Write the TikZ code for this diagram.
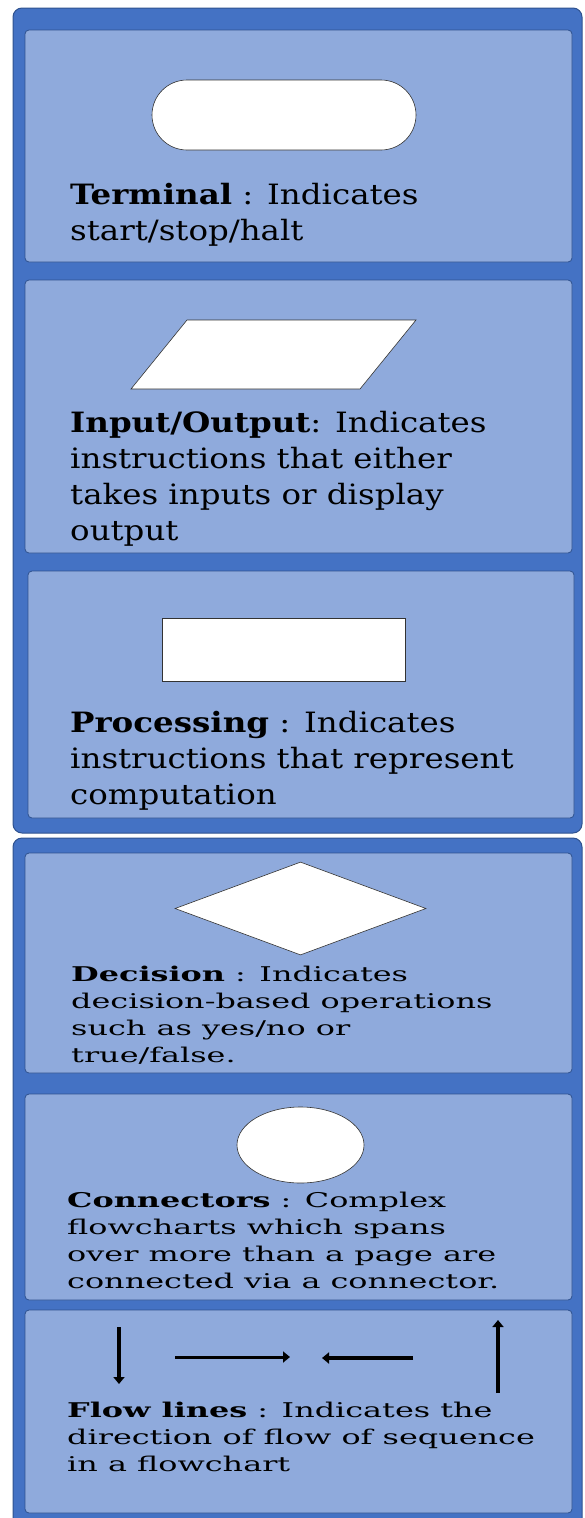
\documentclass[tikz,border=0pt]{standalone}
\usepackage{fontspec}
\setmainfont{DejaVu Serif}
\newfontfamily\bookserif[FakeStretch=1.16]{DejaVu Serif}
\newfontfamily\wideserif[FakeStretch=1.57]{DejaVu Serif}
\usetikzlibrary{shapes.geometric, arrows.meta}
\definecolor{groupblue}{HTML}{4472C4}
\definecolor{panelblue}{HTML}{8FAADC}
\definecolor{edgeblue}{HTML}{2F528F}
\begin{document}
\begin{tikzpicture}[x=1pt, y=-1pt,
    group/.style = {fill=groupblue, draw=edgeblue, line width=1pt, rounded corners=9pt},
    panel/.style = {fill=panelblue, draw=edgeblue, line width=0.8pt, rounded corners=4pt},
    symbol/.style = {fill=white, draw=black!80, line width=0.6pt, inner sep=0pt},
    desc/.style = {anchor=north west, align=left, inner sep=0pt, font=\bookserif\fontsize{28}{36}\selectfont},
    descwide/.style = {anchor=north west, align=left, inner sep=0pt, font=\wideserif\fontsize{20.3}{27}\selectfont},
    flow/.style = {line width=4pt, -{Triangle[length=7pt, width=11pt]}}]
    \useasboundingbox (0,0) rectangle (584,1518);
    \clip (0,0) rectangle (584,1518);
    \draw [group] (13,8) rectangle (582,833);
    \draw [group] (13,838) rectangle (582,1540);
    \draw [panel] (25,30) rectangle (572,262);
    \draw [panel] (25,280) rectangle (572,553);
    \draw [panel] (28,571) rectangle (574,818);
    \draw [panel] (25,853) rectangle (572,1073);
    \draw [panel] (25,1094) rectangle (572,1300);
    \draw [panel] (25,1310) rectangle (572,1513);
    % symbols
    \node [symbol, rectangle, rounded corners=35pt, minimum width=264, minimum height=70] (terminal) at (284,115) {};
    \draw [symbol] (187,320) -- (416,320) -- (360,389) -- (131,389) -- cycle;
    \node [symbol, rectangle, minimum width=243, minimum height=63] (process) at (283.5,649.5) {};
    \node [symbol, diamond, minimum width=251, minimum height=93] (decision) at (300.5,908.5) {};
    \node [symbol, ellipse, minimum width=127, minimum height=76] (connector) at (300.5,1145) {};
    % texts
    \node [desc] (terminaltext) at (70,183) {\textbf{Terminal} : Indicates\\start/stop/halt};
    \node [desc] (inouttext) at (70,411) {\textbf{Input/Output}: Indicates\\instructions that either\\takes inputs or display\\output};
    \node [desc] (processtext) at (70,711) {\textbf{Processing} : Indicates\\instructions that represent\\computation};
    \node [descwide] (decisiontext) at (71,966) {\textbf{Decision} : Indicates\\decision-based operations\\such as yes/no or\\true/false.};
    \node [descwide] (connectortext) at (67,1192) {\textbf{Connectors} : Complex\\flowcharts which spans\\over more than a page are\\connected via a connector.};
    \node [descwide] (flowtext) at (67,1402) {\textbf{Flow lines} : Indicates the\\direction of flow of sequence\\in a flowchart};
    % flow lines
    \coordinate (downA) at (119,1327);
    \coordinate (downB) at (119,1384);
    \coordinate (rightA) at (175,1357);
    \coordinate (rightB) at (290,1357);
    \coordinate (leftA) at (413,1358);
    \coordinate (leftB) at (322,1358);
    \coordinate (upA) at (498,1393);
    \coordinate (upB) at (498,1320);
    \draw [flow] (downA) -- (downB);
    \draw [flow, line width=3pt] (rightA) -- (rightB);
    \draw [flow, line width=4.5pt] (leftA) -- (leftB);
    \draw [flow, line width=4.5pt] (upA) -- (upB);
\end{tikzpicture}
\end{document}
